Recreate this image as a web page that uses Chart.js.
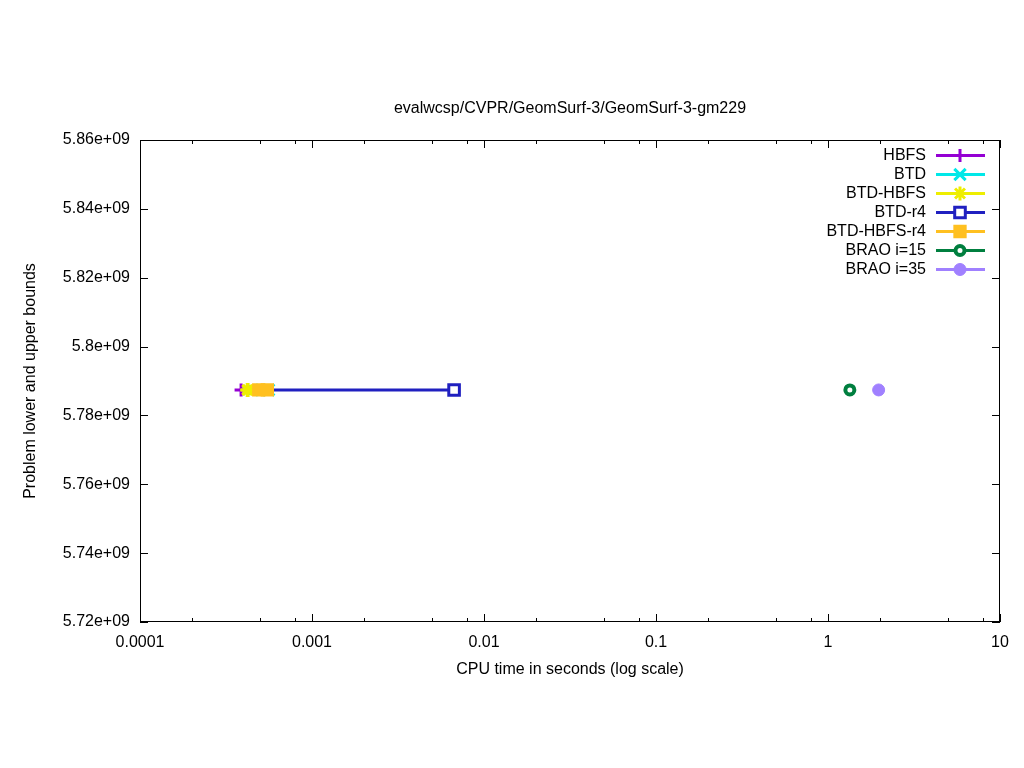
<!DOCTYPE html>
<html>
<head>
<meta charset="utf-8">
<script src="https://cdn.jsdelivr.net/npm/chart.js@4/dist/chart.umd.min.js"></script>
<style>
  html, body { margin: 0; padding: 0; background: #fff; }
  #wrap { width: 1024px; height: 768px; position: relative; }
</style>
</head>
<body>
<div id="wrap"><canvas id="c" width="1024" height="768"></canvas></div>
<script>
// evalwcsp/CVPR/GeomSurf-3/GeomSurf-3-gm229 — alsó/felső korlátok vs. CPU idő

const TITLE = 'evalwcsp/CVPR/GeomSurf-3/GeomSurf-3-gm229';
const X_LABEL = 'CPU time in seconds (log scale)';
const Y_LABEL = 'Problem lower and upper bounds';

const X_TICKS = [0.0001, 0.001, 0.01, 0.1, 1, 10];
const X_TICK_LABELS = ['0.0001', '0.001', '0.01', '0.1', '1', '10'];
const X_MINOR = [2, 5, 8];
const Y_MIN = 5.72e9, Y_MAX = 5.86e9, Y_STEP = 0.02e9;

// series (x = CPU time, y = bound)
const hbfsX = [0.000387];
const hbfsY = [5.7874e9];
const btdX = [0.00045, 0.00056];
const btdY = [5.7874e9, 5.7874e9];
const btdHbfsX = [0.00042, 0.000425];
const btdHbfsY = [5.7874e9, 5.7874e9];
const btdR4X = [0.00057, 0.0067];
const btdR4Y = [5.7874e9, 5.7874e9];
const btdHbfsR4X = [0.00049, 0.00055];
const btdHbfsR4Y = [5.7874e9, 5.7874e9];
const brao15X = [1.34];
const brao15Y = [5.7874e9];
const brao35X = [1.97];
const brao35Y = [5.7874e9];

const SERIES = [
  { label: 'HBFS', xs: hbfsX, ys: hbfsY, color: '#9400d3', style: 'cross', r: 6.5, bw: 3, fill: true },
  { label: 'BTD', xs: btdX, ys: btdY, color: '#00e8e8', style: 'crossRot', r: 8, bw: 3, fill: true },
  { label: 'BTD-HBFS', xs: btdHbfsX, ys: btdHbfsY, color: '#eeee00', style: 'star', r: 7, bw: 3, fill: true },
  { label: 'BTD-r4', xs: btdR4X, ys: btdR4Y, color: '#2020c0', style: 'rect', r: 7.5, bw: 3, fill: false, radii: [0, 7.5] },
  { label: 'BTD-HBFS-r4', xs: btdHbfsR4X, ys: btdHbfsR4Y, color: '#ffc020', style: 'rect', r: 8, bw: 2, fill: true },
  { label: 'BRAO i=15', xs: brao15X, ys: brao15Y, color: '#007f3f', style: 'circle', r: 4.5, bw: 4, fill: false },
  { label: 'BRAO i=35', xs: brao35X, ys: brao35Y, color: '#a080ff', style: 'circle', r: 6, bw: 1, fill: true },
];

const AREA = { left: 140, right: 1000, top: 140, bottom: 622 };
const FONT_FAMILY = '"Liberation Sans", Arial, sans-serif';
const FONT = '16px ' + FONT_FAMILY;

// gnuplot-ban a későbbi sorozat kerül felülre -> fordított order
const datasets = SERIES.map((s, i) => ({
  label: s.label,
  data: s.xs.map((x, j) => ({ x, y: s.ys[j] })),
  order: SERIES.length - i,
  borderColor: s.color,
  backgroundColor: s.fill ? s.color : '#ffffff',
  pointBorderColor: s.color,
  pointBackgroundColor: s.fill ? s.color : '#ffffff',
  pointStyle: s.style,
  pointRadius: s.radii || s.r,
  pointBorderWidth: s.bw,
  borderWidth: 3,
  showLine: true,
  tension: 0,
}));

// gnuplot-szerű keret, befelé álló osztások, felirat, jelmagyarázat
const gnuplotFrame = {
  id: 'gnuplotFrame',
  afterDraw(chart) {
    const c = chart.ctx;
    const a = chart.chartArea;
    const xs = chart.scales.x, ys = chart.scales.y;
    c.save();
    c.strokeStyle = '#000';
    c.lineWidth = 1;
    c.strokeRect(a.left + 0.5, a.top + 0.5, a.right - a.left - 1, a.bottom - a.top - 1);
    c.beginPath();
    for (let v = Y_MIN; v <= Y_MAX + 1; v += Y_STEP) {
      const py = Math.round(ys.getPixelForValue(v)) + 0.5;
      c.moveTo(a.left, py); c.lineTo(a.left + 8, py);
      c.moveTo(a.right, py); c.lineTo(a.right - 8, py);
    }
    X_TICKS.forEach((t) => {
      [1].concat(X_MINOR).forEach((m) => {
        const v = m * t;
        if (v > 10.0001) return;
        const px = Math.round(xs.getPixelForValue(v)) + 0.5;
        const len = m === 1 ? 8 : 4;
        c.moveTo(px, a.bottom); c.lineTo(px, a.bottom - len);
        c.moveTo(px, a.top); c.lineTo(px, a.top + len);
      });
    });
    c.stroke();

    c.fillStyle = '#000';
    c.font = FONT;
    c.textAlign = 'center';
    c.textBaseline = 'middle';
    const cx = (a.left + a.right) / 2;
    c.fillText(TITLE, cx, 109);
    c.fillText(X_LABEL, cx, 670);
    c.save();
    c.translate(31, (a.top + a.bottom) / 2);
    c.rotate(-Math.PI / 2);
    c.fillText(Y_LABEL, 0, 0);
    c.restore();

    // legend
    c.textAlign = 'right';
    SERIES.forEach((s, i) => {
      const y = 155.5 + i * 19;
      c.fillStyle = '#000';
      c.fillText(s.label, 926, y);
      c.strokeStyle = s.color;
      c.lineWidth = 3;
      c.beginPath();
      c.moveTo(936, y); c.lineTo(985, y);
      c.stroke();
      c.fillStyle = s.fill ? s.color : '#ffffff';
      c.strokeStyle = s.color;
      c.lineWidth = s.bw;
      Chart.helpers.drawPoint(c, { pointStyle: s.style, radius: s.r, borderWidth: s.bw }, 960, y);
    });
    c.restore();
  },
};

new Chart(document.getElementById('c'), {
  type: 'scatter',
  data: { datasets },
  plugins: [gnuplotFrame],
  options: {
    responsive: false,
    animation: false,
    layout: { padding: { top: AREA.top, right: 1024 - AREA.right, left: 0, bottom: 0 } },
    plugins: { legend: { display: false }, tooltip: { enabled: false }, title: { display: false } },
    scales: {
      x: {
        type: 'logarithmic',
        min: 0.0001, max: 10,
        afterBuildTicks: (axis) => { axis.ticks = X_TICKS.map((v) => ({ value: v })); },
        afterFit: (axis) => { axis.height = 768 - AREA.bottom; },
        grid: { display: false, drawTicks: false },
        border: { display: false },
        ticks: {
          autoSkip: false, maxRotation: 0, padding: 11,
          color: '#000', font: { family: FONT_FAMILY, size: 16 },
          callback: (v) => { const i = X_TICKS.findIndex((t) => Math.abs(t - v) / t < 1e-6); return i >= 0 ? X_TICK_LABELS[i] : ''; },
        },
      },
      y: {
        min: Y_MIN, max: Y_MAX,
        afterFit: (axis) => { axis.width = AREA.left; },
        grid: { display: false, drawTicks: false },
        border: { display: false },
        ticks: {
          stepSize: Y_STEP, padding: 10,
          color: '#000', font: { family: FONT_FAMILY, size: 16 },
          callback: (v) => parseFloat((v / 1e9).toFixed(2)) + 'e+09',
        },
      },
    },
  },
});
</script>
</body>
</html>
